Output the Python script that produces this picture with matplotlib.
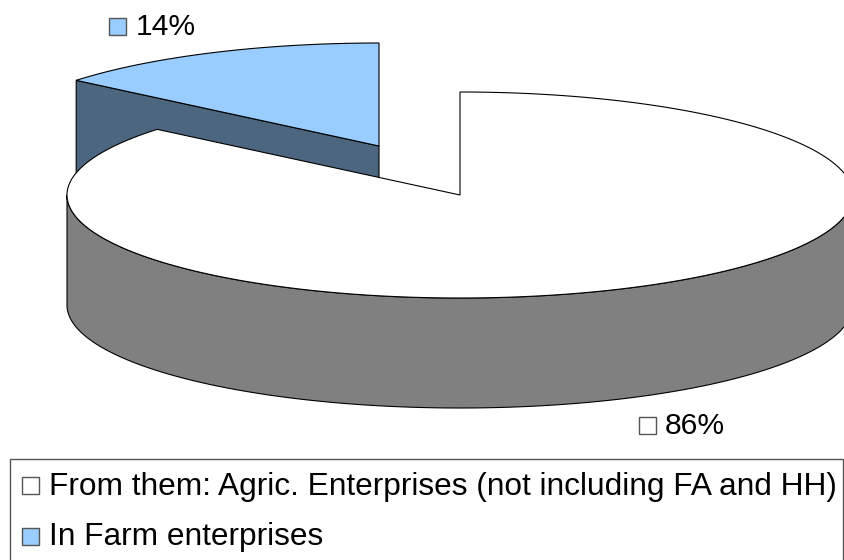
import numpy as np
import matplotlib
matplotlib.use("Agg")
import matplotlib.pyplot as plt
from matplotlib.patches import Polygon, Rectangle

plt.rcParams['font.family'] = ['Liberation Sans', 'DejaVu Sans']

# data
categories = ["From them: Agric. Enterprises (not including FA and HH)", "In Farm enterprises"]
shares = [86, 14]
slice_labels = ["86%", "14%"]
colors = ["#ffffff", "#99ccff"]
wall_colors = ["#808080", "#4d6680"]

# pie geometry in pixels
CX, CY = 460, 195
RX, RY = 393, 103
DEPTH = 110
EXPLODE = (-81, -49)
LW = 0.8


def rim(start, stop, dx=0, dy=0):
    # angles in degrees, counted counterclockwise from 12 o'clock
    t = np.radians(np.linspace(start, stop, 300))
    return np.column_stack([CX + dx - RX * np.sin(t), CY + dy - RY * np.cos(t)])


def drawSmallSlice(ax, sweep):
    dx, dy = EXPLODE
    apex = np.array([[CX + dx, CY + dy]])
    outer = rim(0, sweep, dx, dy)
    # cut face, the big slice hides most of it
    a = apex[0]
    b = outer[-1]
    face = [a, b, b + [0, DEPTH], a + [0, DEPTH]]
    ax.add_patch(Polygon(face, fc=wall_colors[1], ec="black", lw=LW))
    ax.add_patch(Polygon(np.vstack([apex, outer]), fc=colors[1], ec="black", lw=LW))


def drawBigSlice(ax, sweep):
    start = 360 - sweep
    apex = np.array([[CX, CY]])
    # wall only on the front half of the rim
    front = rim(90, 270)
    wall = np.vstack([front, (front + [0, DEPTH])[::-1]])
    ax.add_patch(Polygon(wall, fc=wall_colors[0], ec="black", lw=LW))
    top = rim(start, 360)
    ax.add_patch(Polygon(np.vstack([apex, top]), fc=colors[0], ec="black", lw=LW))


def marker(ax, x, y, color):
    ax.add_patch(Rectangle((x, y), 17, 17, fc=color, ec="#555555", lw=1.0))


fig = plt.figure(figsize=(8.44, 5.6), dpi=100)
ax = fig.add_axes([0, 0, 1, 1])
ax.set_xlim(0, 844)
ax.set_ylim(560, 0)
ax.axis("off")

total = sum(shares)
sweeps = [360 * s / total for s in shares]
drawSmallSlice(ax, sweeps[1])
drawBigSlice(ax, sweeps[0])

# slice labels
marker(ax, 108.5, 18, colors[1])
ax.text(136, 35, slice_labels[1], fontsize=21.6, color="black", va="baseline")
marker(ax, 638.5, 417, colors[0])
ax.text(665, 434, slice_labels[0], fontsize=21.6, color="black", va="baseline")

# legend box
ax.add_patch(Rectangle((9.5, 458.5), 833.5, 110, fc="white", ec="#555555", lw=1.0))
marker(ax, 21.5, 477, colors[0])
ax.text(49, 494.5, categories[0], fontsize=22.8, color="black", va="baseline")
marker(ax, 21.5, 528, colors[1])
ax.text(49, 544.5, categories[1], fontsize=22.8, color="black", va="baseline")

fig.savefig("out.png", dpi=100)
